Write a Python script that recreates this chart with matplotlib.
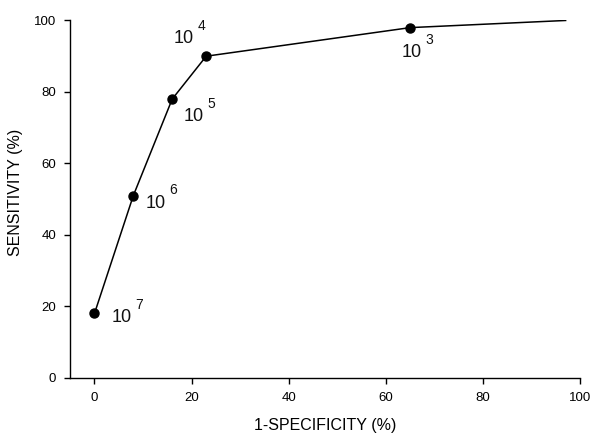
"""ROC curve: sensitivity vs 1-specificity at several cut-offs."""

import matplotlib.pyplot as plt

plt.rcParams["font.family"] = ["Liberation Sans", "DejaVu Sans"]

# data
fpr = [0, 8, 16, 23, 65, 97]
sens = [18, 51, 78, 90, 98, 100]
marked = 5  # the last point has no marker

cutoff_exp = ["7", "6", "5", "4", "3"]
label_x = [5.6, 12.6, 20.5, 18.4, 65.4]
label_y = [16.8, 48.9, 73.2, 95.0, 91.0]


def main():
    fig = plt.figure(figsize=(6, 4.45), dpi=100)
    ax = fig.add_axes([0.117, 0.151, 0.85, 0.803])

    ax.plot(fpr, sens, color="black", lw=1.1, zorder=2)
    ax.plot(fpr[:marked], sens[:marked], "o", color="black", ms=6.5, zorder=3)

    for exp, x, y in zip(cutoff_exp, label_x, label_y):
        t = ax.text(x, y, "10", fontsize=13, ha="center", va="center", color="#111111")
        ax.annotate(
            exp,
            xy=(1, 1),
            xycoords=t,
            xytext=(2.5, -2),
            textcoords="offset points",
            fontsize=10,
            ha="left",
            va="bottom",
            color="#111111",
        )

    ax.set_xlim(-5, 100)
    ax.set_ylim(0, 100)
    ax.set_xticks(range(0, 101, 20))
    ax.set_yticks(range(0, 101, 20))

    for side in ("top", "right"):
        ax.spines[side].set_visible(False)
    for side in ("left", "bottom"):
        ax.spines[side].set_linewidth(1.0)
    ax.tick_params(direction="out", length=4, width=1, labelsize=9.5, pad=6)

    ax.set_xlabel("1-SPECIFICITY (%)", fontsize=11.5, va="center")
    ax.set_ylabel("SENSITIVITY (%)", fontsize=11.5, va="center")
    ax.xaxis.set_label_coords(0.5, -0.134)
    ax.yaxis.set_label_coords(-0.108, 0.518)

    fig.savefig("out.png", dpi=100)


if __name__ == "__main__":
    main()
